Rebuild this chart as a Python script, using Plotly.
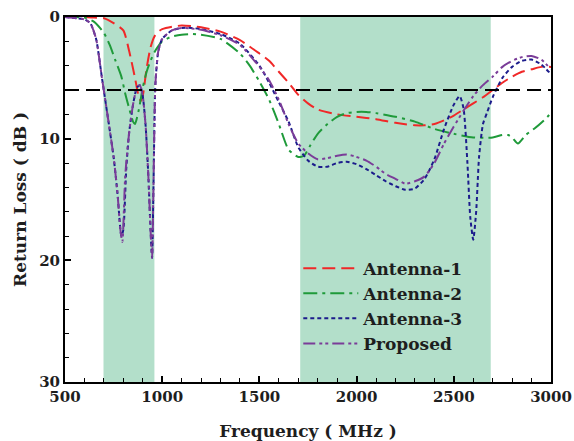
import plotly.graph_objects as go

# ---------------- data ----------------
freq_a1 = [500, 600, 650, 700, 750, 800, 830, 860, 880, 890, 900, 920, 940, 960, 980, 1000, 1050,
           1100, 1150, 1200, 1300, 1400, 1500, 1550, 1600, 1650, 1700, 1750, 1800, 1900, 2000, 2100,
           2200, 2300, 2350, 2400, 2450, 2500, 2550, 2600, 2650, 2700, 2750, 2800, 2850, 2900, 2950, 3000]
rl_a1 = [0, 0, 0.05, 0.1, 0.5, 1.1, 2.8, 5.0, 6.6, 6.9, 6.5, 4.2, 2.5, 1.6, 1.2, 1.0, 0.8,
         0.7, 0.75, 0.85, 1.2, 1.9, 3.0, 3.6, 4.5, 5.4, 6.4, 7.1, 7.6, 8.0, 8.2, 8.4,
         8.7, 8.9, 8.9, 8.8, 8.5, 8.1, 7.6, 7.1, 6.6, 6.0, 5.4, 4.9, 4.5, 4.3, 4.1, 4.1]

freq_a2 = [500, 550, 600, 650, 700, 730, 760, 790, 810, 830, 850, 860, 880, 900, 920, 940, 960, 980,
           1000, 1050, 1100, 1150, 1200, 1300, 1400, 1450, 1500, 1550, 1600, 1650, 1700, 1730, 1760,
           1800, 1850, 1900, 1950, 2000, 2050, 2100, 2200, 2300, 2400, 2500, 2600, 2700, 2750, 2780,
           2800, 2830, 2870, 2920, 2970, 3000]
rl_a2 = [0, 0, 0.05, 0.4, 1.3, 2.3, 3.6, 4.9, 6.3, 7.5, 8.6, 8.8, 7.6, 5.8, 4.5, 3.6, 2.9, 2.4,
         2.0, 1.6, 1.45, 1.4, 1.45, 1.8, 3.0, 4.0, 5.3, 6.8, 8.8, 10.9, 11.5, 11.4, 10.6,
         9.6, 8.8, 8.2, 7.9, 7.8, 7.8, 7.9, 8.2, 8.6, 9.2, 9.6, 9.9, 9.9, 9.7, 9.7,
         9.9, 10.4, 9.7, 9.1, 8.4, 7.9]

freq_a3 = [500, 560, 600, 630, 660, 690, 720, 750, 770, 790, 800, 815, 830, 850, 870, 885, 900, 915,
           930, 940, 948, 955, 965, 980, 1000, 1050, 1100, 1150, 1200, 1300, 1400, 1500, 1550, 1600,
           1650, 1700, 1750, 1800, 1850, 1900, 1950, 2000, 2050, 2100, 2150, 2200, 2250, 2300, 2350,
           2400, 2450, 2500, 2530, 2550, 2570, 2585, 2600, 2615, 2630, 2650, 2670, 2700, 2750, 2800,
           2850, 2900, 2950, 3000]
rl_a3 = [0, 0.1, 0.2, 0.5, 1.8, 5.0, 8.2, 11.5, 14.5, 18.0, 17.5, 12.5, 9.5, 7.2, 5.8, 5.6, 6.5, 9,
         13.5, 17.5, 19.8, 14, 5.5, 2.8, 1.8, 1.1, 0.9, 0.9, 1.0, 1.4, 2.2, 4.0, 5.4, 7.0,
         8.6, 10.7, 11.8, 12.3, 12.3, 12.0, 11.9, 12.1, 12.5, 13.0, 13.5, 13.9, 14.2, 14.1, 13.3,
         11.7, 9.2, 7.2, 6.5, 7.5, 12, 16.5, 18.3, 16, 11.5, 8.8, 7.9, 6.6, 5.0, 4.1,
         3.6, 3.5, 3.9, 4.7]

freq_prop = [500, 560, 600, 630, 660, 690, 720, 750, 770, 785, 795, 810, 830, 850, 870, 885, 900, 915,
             930, 940, 948, 955, 965, 980, 1000, 1050, 1100, 1150, 1200, 1300, 1400, 1500, 1550, 1600,
             1650, 1700, 1750, 1800, 1850, 1900, 1950, 2000, 2050, 2100, 2150, 2200, 2250, 2300, 2350,
             2400, 2450, 2500, 2550, 2600, 2650, 2700, 2750, 2800, 2850, 2900, 2950, 3000]
rl_prop = [0, 0.1, 0.2, 0.5, 1.8, 5.0, 8.2, 11.5, 14.5, 17.5, 18.5, 13, 9.5, 7.2, 5.8, 5.6, 6.5, 9,
           13.5, 17.5, 19.8, 14, 5.5, 2.8, 1.8, 1.1, 0.9, 0.95, 1.05, 1.5, 2.3, 4.1, 5.2, 6.8,
           8.8, 10.4, 11.2, 11.7, 11.6, 11.4, 11.3, 11.5, 11.8, 12.3, 12.9, 13.3, 13.7, 13.5, 13.1,
           12.0, 10.4, 9.0, 7.7, 6.5, 5.6, 4.9, 4.1, 3.6, 3.3, 3.2, 3.5, 4.3]

bands = [(698, 960), (1710, 2690)]
threshold_db = 6
series_names = ["Antenna-1", "Antenna-2", "Antenna-3", "Proposed"]
x_ticks = [500, 1000, 1500, 2000, 2500, 3000]
y_ticks = [0, 10, 20, 30]

# ---------------- figure ----------------
FONT = "DejaVu Serif"
TXT = "#1e1e1e"
fig = go.Figure()

styles = [
    dict(color="#f02828", dash="13px,6px"),
    dict(color="#1f9a3a", dash="14px,5px,3px,5px"),
    dict(color="#1c1c8c", dash="4px,3px"),
    dict(color="#7a3c98", dash="12px,4px,3px,3px,3px,4px"),
]
data = [(freq_a1, rl_a1), (freq_a2, rl_a2), (freq_a3, rl_a3), (freq_prop, rl_prop)]
for name, (fx, fy), st in zip(series_names, data, styles):
    fig.add_trace(go.Scatter(
        x=fx, y=fy, mode="lines", name=name,
        line=dict(color=st["color"], dash=st["dash"], width=2, shape="spline", smoothing=0.6),
    ))

for b0, b1 in bands:
    fig.add_vrect(x0=b0, x1=b1, fillcolor="#b3dfca", opacity=1, line_width=0, layer="below")

fig.add_hline(y=threshold_db, line=dict(color="black", dash="14px,7px", width=2))

fig.update_layout(
    width=574, height=441,
    margin=dict(l=65, r=23, t=17, b=59, autoexpand=False),
    paper_bgcolor="white", plot_bgcolor="white",
    font=dict(family=FONT, color=TXT, size=15),
    showlegend=True,
    legend=dict(
        x=0.48, y=0.36, xanchor="left", yanchor="top",
        bgcolor="rgba(0,0,0,0)", borderwidth=0,
        font=dict(family=FONT, size=17, weight="bold", color=TXT),
        itemwidth=55, tracegroupgap=0,
    ),
)

fig.update_xaxes(
    range=[500, 3000], tickvals=x_ticks, ticktext=[str(v) for v in x_ticks],
    showgrid=False, zeroline=False, automargin=False,
    showline=True, linecolor="black", linewidth=2, mirror=True,
    ticks="inside", ticklen=6, tickwidth=1.5, tickcolor="black",
    minor=dict(ticks="inside", dtick=100, ticklen=4, tickcolor="black", tickwidth=1),
    tickfont=dict(family=FONT, size=15, weight="bold", color=TXT),
    title=dict(text="Frequency ( MHz )", font=dict(family=FONT, size=17, weight="bold", color=TXT),
               standoff=20),
)
fig.update_yaxes(
    range=[30, 0], tickvals=y_ticks, ticktext=[str(v) for v in y_ticks],
    showgrid=False, zeroline=False, automargin=False,
    showline=True, linecolor="black", linewidth=2, mirror=True,
    ticks="inside", ticklen=6, tickwidth=1.5, tickcolor="black",
    minor=dict(ticks="inside", dtick=2, ticklen=4, tickcolor="black", tickwidth=1),
    tickfont=dict(family=FONT, size=15, weight="bold", color=TXT),
    title=dict(text="Return Loss ( dB )", font=dict(family=FONT, size=17, weight="bold", color=TXT),
               standoff=8),
)

fig.write_html("out.html")
